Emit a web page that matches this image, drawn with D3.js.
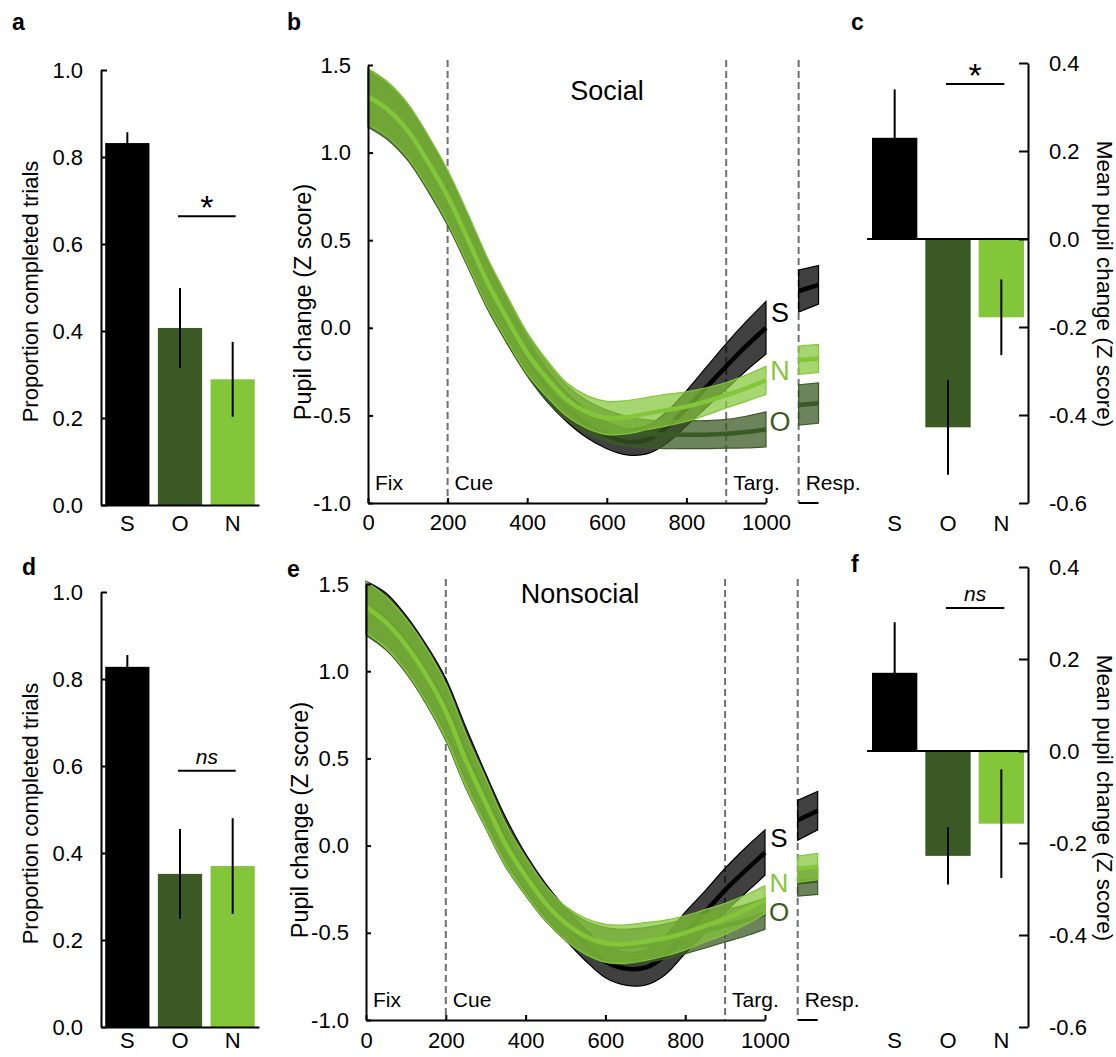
<!DOCTYPE html>
<html>
<head>
<meta charset="utf-8">
<script src="https://cdn.jsdelivr.net/npm/d3@7"></script>
<style>
  body { margin: 0; background: #fff; }
  svg text { font-family: "Liberation Sans", Arial, sans-serif; }
</style>
</head>
<body>
<svg id="fig" width="1116" height="1057"></svg>
<script>
// ---- data ----
const categories = ['S', 'O', 'N'];

const completedSocial = [0.832, 0.407, 0.289];
const completedSocialErr = [0.025, 0.092, 0.086];
const completedNonsocial = [0.828, 0.352, 0.370];
const completedNonsocialErr = [0.027, 0.103, 0.110];

const pupilSocial = [0.23, -0.428, -0.178];
const pupilSocialErr = [0.11, 0.108, 0.086];
const pupilNonsocial = [0.17, -0.228, -0.158];
const pupilNonsocialErr = [0.11, 0.062, 0.118];

const times = [0, 50, 100, 150, 200, 250, 300, 350, 400, 450, 500, 550, 600, 650, 700, 750, 800, 850, 900, 950, 1000];

const socialS = [1.31, 1.235, 1.115, 0.94, 0.74, 0.50, 0.25, 0.03, -0.165, -0.33, -0.455, -0.55, -0.615, -0.65, -0.64, -0.57, -0.46, -0.34, -0.22, -0.105, 0.00];
const socialSsem = [0.15, 0.148, 0.145, 0.142, 0.14, 0.137, 0.13, 0.12, 0.105, 0.092, 0.083, 0.078, 0.075, 0.075, 0.08, 0.09, 0.10, 0.115, 0.13, 0.14, 0.15];
const socialO = [1.31, 1.235, 1.115, 0.94, 0.74, 0.50, 0.25, 0.04, -0.155, -0.31, -0.43, -0.51, -0.56, -0.59, -0.605, -0.61, -0.61, -0.61, -0.605, -0.595, -0.58];
const socialOsem = [0.165, 0.163, 0.16, 0.157, 0.155, 0.15, 0.143, 0.132, 0.12, 0.11, 0.10, 0.095, 0.09, 0.085, 0.08, 0.08, 0.08, 0.08, 0.082, 0.09, 0.10];
const socialN = [1.32, 1.245, 1.125, 0.95, 0.75, 0.51, 0.26, 0.05, -0.145, -0.29, -0.41, -0.48, -0.515, -0.51, -0.49, -0.47, -0.45, -0.42, -0.385, -0.345, -0.30];
const socialNsem = [0.16, 0.158, 0.155, 0.152, 0.15, 0.147, 0.14, 0.13, 0.118, 0.105, 0.095, 0.093, 0.095, 0.095, 0.092, 0.09, 0.085, 0.078, 0.073, 0.075, 0.08];

const nonsocialS = [1.37, 1.30, 1.17, 1.00, 0.80, 0.53, 0.275, 0.04, -0.155, -0.315, -0.45, -0.57, -0.665, -0.705, -0.70, -0.63, -0.50, -0.38, -0.255, -0.145, -0.04];
const nonsocialSsem = [0.145, 0.148, 0.15, 0.155, 0.158, 0.15, 0.138, 0.122, 0.108, 0.097, 0.092, 0.09, 0.093, 0.095, 0.10, 0.11, 0.118, 0.12, 0.125, 0.13, 0.13];
const nonsocialO = [1.35, 1.27, 1.14, 0.97, 0.76, 0.48, 0.24, 0.00, -0.18, -0.335, -0.45, -0.53, -0.57, -0.58, -0.57, -0.55, -0.52, -0.49, -0.46, -0.43, -0.39];
const nonsocialOsem = [0.145, 0.148, 0.15, 0.155, 0.158, 0.15, 0.14, 0.122, 0.107, 0.097, 0.095, 0.098, 0.10, 0.10, 0.10, 0.10, 0.10, 0.097, 0.093, 0.09, 0.09];
const nonsocialN = [1.37, 1.28, 1.15, 0.98, 0.77, 0.49, 0.245, 0.005, -0.175, -0.33, -0.445, -0.52, -0.56, -0.565, -0.55, -0.53, -0.50, -0.46, -0.42, -0.37, -0.31];
const nonsocialNsem = [0.145, 0.148, 0.15, 0.155, 0.158, 0.152, 0.14, 0.122, 0.107, 0.097, 0.097, 0.103, 0.108, 0.11, 0.108, 0.103, 0.098, 0.093, 0.089, 0.085, 0.08];

const respTimes = [1082, 1132];
const respSocialS = [0.21, 0.245];
const respSocialSsem = [0.12, 0.11];
const respSocialO = [-0.44, -0.43];
const respSocialOsem = [0.115, 0.115];
const respSocialN = [-0.185, -0.175];
const respSocialNsem = [0.08, 0.08];
const respNonsocialS = [0.145, 0.20];
const respNonsocialSsem = [0.115, 0.11];
const respNonsocialO = [-0.21, -0.20];
const respNonsocialOsem = [0.08, 0.08];
const respNonsocialN = [-0.135, -0.12];
const respNonsocialNsem = [0.075, 0.075];

const propTicks = [0, 0.2, 0.4, 0.6, 0.8, 1.0];
const pupilTicks = [-1.0, -0.5, 0.0, 0.5, 1.0, 1.5];
const timeTicks = [0, 200, 400, 600, 800, 1000];
const meanTicks = [-0.6, -0.4, -0.2, 0.0, 0.2, 0.4];
const eventTimes = [200, 900, 1082];
const phaseNames = ['Fix', 'Cue', 'Targ.', 'Resp.'];
const phaseTimes = [0, 200, 900, 1082];

// ---- style ----
const colors = ['#000000', '#3b5a26', '#84c63a'];
const bandOpacity = [0.75, 0.75, 0.72];
const svg = d3.select('#fig');
const fmt = d => (Math.abs(d) < 1e-9 ? '0.0' : d.toFixed(1));

function styleAxis(g) {
  g.selectAll('path.domain').attr('stroke', '#000').attr('stroke-width', 2);
  g.selectAll('.tick line').attr('stroke', '#000').attr('stroke-width', 2);
  g.selectAll('.tick text').attr('fill', '#000').attr('font-size', 22);
}

function panelLetter(t, x, y) {
  svg.append('text').attr('x', x).attr('y', y).attr('font-size', 23)
    .attr('font-weight', 'bold').text(t);
}

function sigMark(g, x, y, level, label) {
  const c0 = x(categories[1]) + x.bandwidth() / 2 - 2;
  const c1 = x(categories[2]) + x.bandwidth() / 2 + 3;
  g.append('line').attr('x1', c0).attr('x2', c1).attr('y1', y(level)).attr('y2', y(level))
    .attr('stroke', '#000').attr('stroke-width', 2);
  if(label === '*') {
    g.append('text').attr('x', (c0 + c1) / 2).attr('y', y(level) + 3).attr('text-anchor', 'middle')
      .attr('font-size', 34).text('*');
  } else {
    g.append('text').attr('x', (c0 + c1) / 2).attr('y', y(level) - 7).attr('text-anchor', 'middle')
      .attr('font-size', 21).attr('font-style', 'italic').text(label);
  }
}

// ---- proportion bar panels (a, d) ----
function proportionPanel(p) {
  const g = svg.append('g');
  const x = d3.scaleBand().domain(categories).range(p.xRange).paddingInner(0.16).paddingOuter(0.08);
  const y = d3.scaleLinear().domain([0, 1]).range(p.yRange);

  g.selectAll('rect.bar').data(p.values).join('rect')
    .attr('x', (d, i) => x(categories[i]))
    .attr('width', x.bandwidth())
    .attr('y', d => y(d))
    .attr('height', d => y(0) - y(d))
    .attr('fill', (d, i) => colors[i]);

  g.selectAll('line.err').data(p.values).join('line')
    .attr('x1', (d, i) => x(categories[i]) + x.bandwidth() / 2)
    .attr('x2', (d, i) => x(categories[i]) + x.bandwidth() / 2)
    .attr('y1', (d, i) => y(d - p.errs[i]))
    .attr('y2', (d, i) => y(d + p.errs[i]))
    .attr('stroke', '#000').attr('stroke-width', 2);

  g.append('g').attr('transform', `translate(${p.xRange[0]},0)`)
    .call(d3.axisLeft(y).tickValues(propTicks).tickFormat(fmt).tickSize(-6).tickSizeOuter(0).tickPadding(18))
    .call(styleAxis);

  g.append('g').attr('transform', `translate(0,${y(0)})`)
    .call(d3.axisBottom(x).tickSize(0).tickPadding(p.labelBase - y(0) - 16))
    .call(styleAxis);

  g.append('text')
    .attr('transform', `translate(${p.titleX},${(p.yRange[0] + p.yRange[1]) / 2 + 4}) rotate(-90)`)
    .attr('text-anchor', 'middle').attr('font-size', 22).text('Proportion completed trials');

  sigMark(g, x, y, p.sigLevel, p.sig);
}

// ---- mean pupil bar panels (c, f) ----
function meanPanel(p) {
  const g = svg.append('g');
  const x = d3.scaleBand().domain(categories).range(p.xRange).paddingInner(0.15).paddingOuter(0.075);
  const y = d3.scaleLinear().domain([-0.6, 0.4]).range(p.yRange);

  g.selectAll('rect.bar').data(p.values).join('rect')
    .attr('x', (d, i) => x(categories[i]))
    .attr('width', x.bandwidth())
    .attr('y', d => Math.min(y(d), y(0)))
    .attr('height', d => Math.abs(y(d) - y(0)))
    .attr('fill', (d, i) => colors[i]);

  g.selectAll('line.err').data(p.values).join('line')
    .attr('x1', (d, i) => x(categories[i]) + x.bandwidth() / 2)
    .attr('x2', (d, i) => x(categories[i]) + x.bandwidth() / 2)
    .attr('y1', (d, i) => y(d - p.errs[i]))
    .attr('y2', (d, i) => y(d + p.errs[i]))
    .attr('stroke', '#000').attr('stroke-width', 2);

  g.append('line').attr('x1', p.xRange[0] - 1).attr('x2', p.xRange[1])
    .attr('y1', y(0)).attr('y2', y(0)).attr('stroke', '#000').attr('stroke-width', 2);

  g.append('g').attr('transform', `translate(${p.xRange[1]},0)`)
    .call(d3.axisRight(y).tickValues(meanTicks).tickFormat(fmt).tickSize(-9).tickSizeOuter(0).tickPadding(21))
    .call(styleAxis);

  const xa = g.append('g').attr('transform', `translate(0,${y(-0.6)})`)
    .call(d3.axisBottom(x).tickSize(0).tickPadding(p.labelBase - y(-0.6) - 16))
    .call(styleAxis);
  xa.select('path.domain').remove();

  g.append('text')
    .attr('transform', `translate(${p.titleX},${(p.yRange[0] + p.yRange[1]) / 2 + 1}) rotate(90)`)
    .attr('text-anchor', 'middle').attr('font-size', 22.5).text('Mean pupil change (Z score)');

  sigMark(g, x, y, p.sigLevel, p.sig);
}

// ---- pupil time course panels (b, e) ----
function tracePanel(p) {
  const g = svg.append('g');
  const x = d3.scaleLinear().domain([0, 1000]).range(p.xRange);
  const y = d3.scaleLinear().domain([-1, 1.5]).range(p.yRange);

  g.selectAll('line.event').data(eventTimes).join('line')
    .attr('x1', d => x(d)).attr('x2', d => x(d))
    .attr('y1', p.yRange[1] - 5).attr('y2', y(-1))
    .attr('stroke', '#707070').attr('stroke-width', 2).attr('stroke-dasharray', '7,4');

  const area = d3.area().curve(d3.curveCatmullRom);
  const line = d3.line().curve(d3.curveCatmullRom);

  p.series.forEach((s, i) => {
    [[times, s.mean, s.sem], [respTimes, s.rMean, s.rSem]].forEach(([ts, m, e]) => {
      const pts = ts.map((t, k) => ({t, m: m[k], e: e[k]}));
      g.append('path')
        .attr('d', area.x(d => x(d.t)).y0(d => y(d.m - d.e)).y1(d => y(d.m + d.e))(pts))
        .attr('fill', colors[i]).attr('fill-opacity', bandOpacity[i])
        .attr('stroke', colors[i]).attr('stroke-width', 1.2);
      g.append('path')
        .attr('d', line.x(d => x(d.t)).y(d => y(d.m))(pts))
        .attr('fill', 'none').attr('stroke', colors[i]).attr('stroke-width', 4.5);
    });
  });

  g.append('g').attr('transform', `translate(${p.xRange[0]},0)`)
    .call(d3.axisLeft(y).tickValues(pupilTicks).tickFormat(fmt).tickSize(-5).tickSizeOuter(0).tickPadding(17))
    .call(styleAxis);

  g.append('g').attr('transform', `translate(0,${y(-1)})`)
    .call(d3.axisBottom(x).tickValues(timeTicks).tickFormat(d3.format('d')).tickSize(-5).tickSizeOuter(0).tickPadding(p.labelBase - y(-1) - 16))
    .call(styleAxis);

  g.append('line').attr('x1', x(respTimes[0])).attr('x2', x(respTimes[1]))
    .attr('y1', y(-1)).attr('y2', y(-1)).attr('stroke', '#000').attr('stroke-width', 2);

  g.selectAll('text.phase').data(phaseNames).join('text')
    .attr('x', (d, i) => x(phaseTimes[i]) + 7)
    .attr('y', y(-1) - 13)
    .attr('font-size', 21).text(d => d);

  g.append('text').attr('x', p.titlePos[0]).attr('y', p.titlePos[1])
    .attr('text-anchor', 'middle').attr('font-size', 27).text(p.title);

  g.append('text')
    .attr('transform', `translate(${p.labelX},${(p.yRange[0] + p.yRange[1]) / 2 + 18}) rotate(-90)`)
    .attr('text-anchor', 'middle').attr('font-size', 23.5).text('Pupil change (Z score)');

  g.selectAll('text.cond').data(categories).join('text')
    .attr('x', x(1000) + 14)
    .attr('y', (d, i) => y(p.condLabelY[i]) + 10)
    .attr('text-anchor', 'middle').attr('font-size', p.condSize)
    .attr('fill', (d, i) => colors[i]).text(d => d);
}

// ---- layout ----
proportionPanel({xRange: [101, 259], yRange: [505, 70], values: completedSocial, errs: completedSocialErr,
  labelBase: 531, titleX: 38, sigLevel: 0.664, sig: '*'});
proportionPanel({xRange: [101, 259], yRange: [1027, 592], values: completedNonsocial, errs: completedNonsocialErr,
  labelBase: 1048, titleX: 38, sigLevel: 0.589, sig: 'ns'});

tracePanel({xRange: [368, 766], yRange: [503, 65], labelBase: 530, labelX: 311, title: 'Social', titlePos: [607, 100],
  condLabelY: [0.09, -0.53, -0.24], condSize: 27,
  series: [
    {mean: socialS, sem: socialSsem, rMean: respSocialS, rSem: respSocialSsem},
    {mean: socialO, sem: socialOsem, rMean: respSocialO, rSem: respSocialOsem},
    {mean: socialN, sem: socialNsem, rMean: respSocialN, rSem: respSocialNsem}
  ]});
tracePanel({xRange: [366, 765], yRange: [1020, 584], labelBase: 1048, labelX: 308, title: 'Nonsocial', titlePos: [580, 603],
  condLabelY: [0.05, -0.375, -0.21], condSize: 26,
  series: [
    {mean: nonsocialS, sem: nonsocialSsem, rMean: respNonsocialS, rSem: respNonsocialSsem},
    {mean: nonsocialO, sem: nonsocialOsem, rMean: respNonsocialO, rSem: respNonsocialOsem},
    {mean: nonsocialN, sem: nonsocialNsem, rMean: respNonsocialN, rSem: respNonsocialNsem}
  ]});

meanPanel({xRange: [868, 1028], yRange: [503, 63], values: pupilSocial, errs: pupilSocialErr,
  labelBase: 531, titleX: 1097, sigLevel: 0.352, sig: '*'});
meanPanel({xRange: [868, 1028], yRange: [1027, 567], values: pupilNonsocial, errs: pupilNonsocialErr,
  labelBase: 1048, titleX: 1097, sigLevel: 0.311, sig: 'ns'});

panelLetter('a', 12, 30);
panelLetter('b', 287, 30);
panelLetter('c', 851, 30);
panelLetter('d', 22, 575);
panelLetter('e', 287, 577);
panelLetter('f', 851, 572);
</script>
</body>
</html>
